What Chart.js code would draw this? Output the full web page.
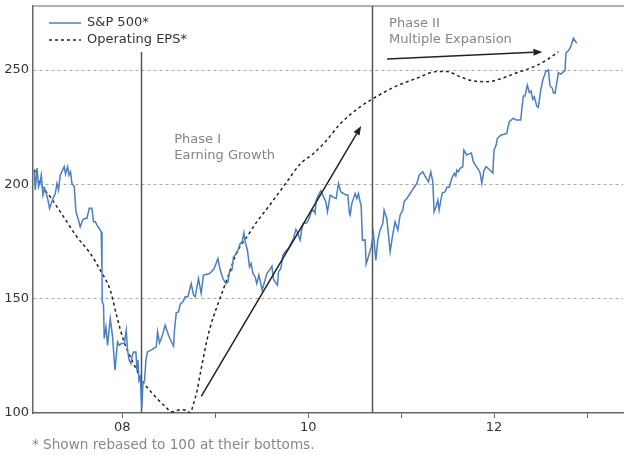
<!DOCTYPE html>
<html><head><meta charset="utf-8">
<script src="https://cdn.jsdelivr.net/npm/chart.js@4.4.1/dist/chart.umd.min.js"></script>
<style>html,body{margin:0;padding:0;background:#fff}#wrap{width:624px;height:455px;position:relative}</style>
</head><body><div id="wrap"><canvas id="c" width="624" height="455"></canvas></div>
<script>
// ---- Data (decimal years, rebased index values) ----
const seriesNames = ['S&P 500*', 'Operating EPS*'];
const spxDates = [
2007.054,2007.065,2007.083,2007.100,2007.118,2007.129,2007.147,2007.165,2007.183,2007.201,
2007.218,2007.237,2007.255,2007.280,2007.298,2007.315,2007.333,2007.358,2007.376,2007.390,
2007.412,2007.427,2007.444,2007.459,2007.484,2007.502,2007.530,2007.548,2007.573,2007.595,
2007.620,2007.645,2007.674,2007.691,2007.710,2007.728,2007.753,2007.774,2007.782,2007.785,
2007.799,2007.806,2007.825,2007.842,2007.871,2007.896,2007.922,2007.949,2007.968,2007.989,
2008.022,2008.043,2008.057,2008.075,2008.094,2008.104,2008.122,2008.147,2008.158,2008.169,
2008.180,2008.194,2008.210,2008.223,2008.240,2008.255,2008.272,2008.319,2008.366,2008.380,
2008.401,2008.427,2008.462,2008.498,2008.534,2008.552,2008.562,2008.581,2008.605,2008.624,
2008.653,2008.677,2008.706,2008.742,2008.767,2008.785,2008.820,2008.849,2008.874,2008.911,
2008.939,2008.957,2008.989,2009.029,2009.054,2009.083,2009.115,2009.137,2009.154,2009.180,
2009.197,2009.233,2009.269,2009.290,2009.309,2009.323,2009.347,2009.369,2009.387,2009.405,
2009.430,2009.448,2009.470,2009.491,2009.505,2009.556,2009.584,2009.610,2009.627,2009.670,
2009.681,2009.706,2009.728,2009.753,2009.788,2009.814,2009.842,2009.868,2009.889,2009.914,
2009.932,2009.949,2009.986,2010.011,2010.032,2010.057,2010.075,2010.086,2010.111,2010.137,
2010.165,2010.190,2010.208,2010.237,2010.272,2010.301,2010.326,2010.352,2010.380,2010.409,
2010.427,2010.444,2010.452,2010.470,2010.505,2010.524,2010.541,2010.559,2010.570,2010.584,
2010.613,2010.624,2010.648,2010.677,2010.702,2010.728,2010.749,2010.774,2010.803,2010.817,
2010.846,2010.882,2010.906,2010.935,2010.965,2010.989,2011.018,2011.032,2011.061,2011.097,
2011.132,2011.169,2011.194,2011.233,2011.258,2011.294,2011.319,2011.341,2011.355,2011.376,
2011.395,2011.409,2011.427,2011.444,2011.473,2011.491,2011.519,2011.534,2011.552,2011.573,
2011.588,2011.599,2011.616,2011.634,2011.663,2011.675,2011.706,2011.724,2011.756,2011.777,
2011.806,2011.831,2011.849,2011.868,2011.892,2011.914,2011.949,2011.986,2012.000,2012.022,
2012.035,2012.072,2012.136,2012.164,2012.208,2012.237,2012.287,2012.298,2012.315,2012.333,
2012.358,2012.380,2012.398,2012.416,2012.433,2012.459,2012.476,2012.502,2012.524,2012.556,
2012.584,2012.602,2012.627,2012.638,2012.656,2012.692,2012.717,2012.763,2012.774,2012.799,
2012.825,2012.853,2012.889];
const spxValues = [
206.2,197.5,207.1,198.9,201.1,204.0,195.3,198.2,196.0,193.1,
189.5,191.7,193.8,196.0,200.4,197.5,204.0,206.2,207.7,204.5,
207.7,204.0,205.5,200.4,198.9,188.0,184.3,181.4,184.3,185.1,
185.1,189.5,189.5,183.6,183.6,182.2,180.7,179.2,162.5,148.6,
147.1,132.6,137.6,129.6,141.3,133.3,118.7,131.1,129.6,130.4,
130.4,136.2,127.4,123.1,121.6,124.5,126.7,126.7,118.7,123.1,
114.3,115.8,102.0,112.9,114.3,123.1,126.7,127.7,128.9,135.5,
130.6,133.3,138.4,134.0,130.6,129.2,136.2,143.8,144.2,147.6,
148.6,150.8,150.8,156.6,151.5,150.8,158.8,152.3,160.3,160.7,
161.0,161.7,163.2,167.6,162.5,158.8,156.6,157.3,161.7,162.5,
168.3,169.8,174.1,174.8,178.8,174.8,171.2,163.9,165.4,161.0,
159.5,156.6,160.3,156.6,153.7,161.0,162.5,164.2,158.4,155.9,
161.7,163.2,169.0,170.5,172.0,174.1,176.3,180.3,178.5,175.6,
180.7,182.9,183.2,185.1,188.0,188.7,187.3,193.1,195.3,197.2,
194.5,192.4,188.0,195.3,194.3,193.8,200.4,196.7,196.0,195.3,
195.3,187.3,186.5,191.7,196.0,193.8,196.0,192.4,190.9,175.6,
175.7,165.1,168.3,172.3,178.5,166.8,175.6,180.0,182.9,188.7,
185.1,170.5,177.0,183.6,180.0,186.5,188.7,192.4,193.8,196.0,
198.2,200.4,204.0,205.5,203.6,201.1,205.5,201.1,188.0,190.2,
193.1,188.7,193.1,196.3,196.7,198.7,198.7,201.1,203.3,204.8,
203.6,206.2,205.5,207.0,207.7,215.0,212.8,213.2,213.7,209.9,
208.0,206.5,205.1,200.4,206.2,207.7,206.5,205.0,215.0,217.2,
220.1,221.5,222.3,227.4,228.9,228.1,228.1,232.8,238.6,238.6,
243.4,240.1,240.9,237.2,238.3,234.2,233.7,241.2,245.6,249.3,
250.0,243.0,242.0,240.1,239.8,248.8,248.2,249.7,257.6,258.4,
260.2,263.9,261.7];
const epsDates = [
2007.054,2007.118,2007.226,2007.369,2007.513,2007.656,2007.763,2007.871,2007.943,2008.014,
2008.122,2008.229,2008.373,2008.462,2008.534,2008.624,2008.699,2008.731,2008.767,2008.806,
2008.839,2008.874,2008.911,2008.946,2009.018,2009.072,2009.143,2009.233,2009.341,2009.448,
2009.573,2009.771,2009.914,2010.057,2010.183,2010.344,2010.559,2010.702,2010.917,2011.169,
2011.384,2011.491,2011.634,2011.777,2011.922,2012.065,2012.244,2012.423,2012.567,2012.691];
const epsValues = [
206.5,200.4,194.5,185.8,177.0,169.8,162.5,153.7,142.0,131.8,
121.6,113.4,106.4,102.9,100.5,101.4,101.0,100.0,104.1,109.9,
117.2,124.5,131.8,137.5,146.4,152.4,160.3,170.3,177.0,183.6,
190.2,201.1,208.9,213.5,218.5,226.4,233.9,237.6,242.4,246.4,
249.3,249.3,247.1,245.2,244.9,246.1,248.8,251.4,254.4,258.0];
const xTickValues = [2008, 2009, 2010, 2011, 2012, 2013];
const xTickLabels = ['08', '', '10', '', '12', ''];
const yTickValues = [100, 150, 200, 250];
const X_MIN = 2007.04, X_MAX = 2013.387, Y_MIN = 100, Y_MAX = 278;

// annotations (in data units)
const phaseLines = [ {x: 2008.204, top: 257.9}, {x: 2010.691, top: Y_MAX} ];
const phaseArrows = [ {x1: 2008.85, y1: 107.3, x2: 2010.57, y2: 225.5},
                      {x1: 2010.85, y1: 254.8, x2: 2012.52, y2: 257.9} ];
const phaseTexts = [ {x: 2008.559, y: 219.4, text: 'Phase I'},
                     {x: 2008.559, y: 212.4, text: 'Earning Growth'},
                     {x: 2010.871, y: 270.1, text: 'Phase II'},
                     {x: 2010.871, y: 263.1, text: 'Multiple Expansion'} ];
const footnote = '* Shown rebased to 100 at their bottoms.';

const FONT = "'DejaVu Sans', Verdana, sans-serif";
const spx = spxDates.map((d, i) => ({x: d, y: spxValues[i]}));
const eps = epsDates.map((d, i) => ({x: d, y: epsValues[i]}));
const COLORS = ['#4a7fc1', '#222222'];
const DASHES = [[], [3, 3]];

function drawArrow(ctx, x1, y1, x2, y2) {
  const ang = Math.atan2(y2 - y1, x2 - x1);
  const hl = 9, hw = 3.5;
  const bx = x2 - hl * Math.cos(ang), by = y2 - hl * Math.sin(ang);
  ctx.beginPath(); ctx.moveTo(x1, y1); ctx.lineTo(bx, by); ctx.stroke();
  ctx.beginPath(); ctx.moveTo(x2, y2);
  ctx.lineTo(bx + hw * Math.sin(ang), by - hw * Math.cos(ang));
  ctx.lineTo(bx - hw * Math.sin(ang), by + hw * Math.cos(ang));
  ctx.closePath(); ctx.fill();
}

const annot = {
  id: 'annot',
  beforeDatasetsDraw(chart) {
    const {ctx, chartArea: a, scales: {x, y}} = chart;
    ctx.save();
    ctx.strokeStyle = '#999'; ctx.lineWidth = 1.5;
    ctx.beginPath(); ctx.moveTo(a.left, a.top); ctx.lineTo(chart.width, a.top); ctx.stroke();
    ctx.strokeStyle = '#555'; ctx.lineWidth = 1.5;
    phaseLines.forEach(l => {
      const px = Math.round(x.getPixelForValue(l.x)) + 0.5;
      ctx.beginPath(); ctx.moveTo(px, y.getPixelForValue(l.top)); ctx.lineTo(px, a.bottom); ctx.stroke();
    });
    ctx.restore();
  },
  afterDatasetsDraw(chart) {
    const {ctx, chartArea: a, scales: {x, y}} = chart;
    ctx.save();
    ctx.strokeStyle = '#222'; ctx.fillStyle = '#222'; ctx.lineWidth = 1.5;
    phaseArrows.forEach(r => drawArrow(ctx, x.getPixelForValue(r.x1), y.getPixelForValue(r.y1),
                                           x.getPixelForValue(r.x2), y.getPixelForValue(r.y2)));
    ctx.font = '13px ' + FONT; ctx.textBaseline = 'middle'; ctx.textAlign = 'left';
    ctx.fillStyle = '#858585';
    phaseTexts.forEach(t => ctx.fillText(t.text, x.getPixelForValue(t.x), y.getPixelForValue(t.y)));
    // legend
    seriesNames.forEach((n, i) => {
      const ly = a.top + 17 + i * 17;
      ctx.strokeStyle = COLORS[i]; ctx.lineWidth = 1.5; ctx.setLineDash(DASHES[i]);
      ctx.beginPath(); ctx.moveTo(a.left + 16, ly); ctx.lineTo(a.left + 48, ly); ctx.stroke();
      ctx.setLineDash([]);
      ctx.fillStyle = '#333'; ctx.fillText(n, a.left + 54, ly);
    });
    // footnote
    ctx.font = '13.6px ' + FONT; ctx.fillStyle = '#888';
    ctx.fillText(footnote, a.left - 1, chart.height - 10);
    ctx.restore();
  }
};

new Chart(document.getElementById('c'), {
  type: 'line',
  data: { datasets: [
    { label: seriesNames[0], data: spx, borderColor: COLORS[0], borderWidth: 1.5, pointRadius: 0, tension: 0, fill: false },
    { label: seriesNames[1], data: eps, borderColor: COLORS[1], borderWidth: 1.5, borderDash: DASHES[1], pointRadius: 0, cubicInterpolationMode: 'monotone', fill: false }
  ]},
  options: {
    responsive: false, animation: false, devicePixelRatio: 1,
    layout: { padding: { left: 0, right: 1, top: 6, bottom: 0 } },
    plugins: { legend: { display: false }, tooltip: { enabled: false } },
    scales: {
      x: { type: 'linear', min: X_MIN, max: X_MAX,
        afterBuildTicks: s => { s.ticks = xTickValues.map(v => ({value: v})); },
        afterFit: s => { s.height = 42; s.paddingLeft = 0; s.paddingRight = 0; },
        ticks: { callback: (v, i) => xTickLabels[i], color: '#333', font: {family: FONT, size: 13}, padding: 2, maxRotation: 0, autoSkip: false },
        grid: { drawOnChartArea: false, drawTicks: true, tickLength: 5, color: '#666', lineWidth: 1 },
        border: { color: '#666', width: 1.5 }
      },
      y: { min: Y_MIN, max: Y_MAX,
        afterBuildTicks: s => { s.ticks = yTickValues.map(v => ({value: v})); },
        afterFit: s => { s.width = 33; s.paddingTop = 0; s.paddingBottom = 0; },
        ticks: { color: '#333', font: {family: FONT, size: 13}, padding: 4 },
        grid: { drawTicks: false, color: c => (c.tick && c.tick.value === 100) ? 'rgba(0,0,0,0)' : '#aaa', lineWidth: 1 },
        border: { color: '#666', width: 1.5, dash: [3, 3] }
      }
    }
  },
  plugins: [annot]
});
</script></body></html>
